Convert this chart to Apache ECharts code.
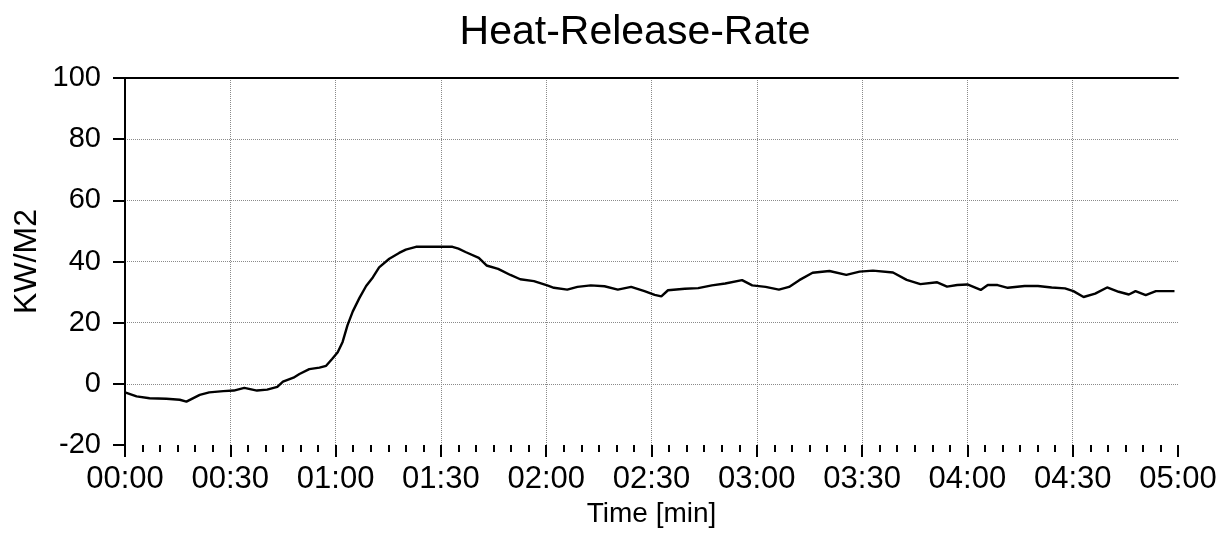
<!DOCTYPE html>
<html lang="en">

<head>
    <meta charset="UTF-8">
    <title>Heat-Release-Rate</title>
    <style>
        html, body {
            margin: 0;
            padding: 0;
            background: #fff;
        }

        #myEcharts {
            width: 1231px;
            height: 534px;
        }
    </style>
    <script src="https://cdn.jsdelivr.net/npm/echarts@6/dist/echarts.min.js"></script>
</head>

<body>
    <div id="myEcharts"></div>

    <script>
        // time in seconds
        const times = [
            0, 3.3, 7, 11.8, 15.6, 17.5, 21.3, 24, 28, 31, 34, 37.6, 40.5, 43.4, 45, 48, 49.7,
            52.5, 55.4, 57.3, 59, 60.6, 62, 63.4, 64.9, 66.8, 68.7, 70.6, 72.4, 75.3, 78.1, 80,
            82.9, 87.6, 90.4, 93.3, 95, 97, 100.8, 103, 106.3, 109.8, 112.6, 116.5, 120.3,
            122.2, 126, 128.9, 132.7, 136.6, 140.4, 144.2, 148, 150.9, 152.8, 154.7, 159.5,
            163.3, 167.2, 171, 175.8, 178.7, 182.5, 186.3, 189.2, 192.1, 195.9, 200.7, 205.5,
            209.3, 213.1, 218.8, 222.7, 226.6, 231.4, 234.2, 237.1, 240, 243.8, 245.8, 248.6,
            251.5, 256.3, 260.1, 264, 267.8, 270.2, 273.1, 276.4, 279.8, 283.1, 286, 287.9,
            290.8, 293.7, 299
        ];
        // heat release rate, KW/M2
        const hrr = [
            -2.8, -4.1, -4.7, -4.9, -5.2, -5.8, -3.6, -2.8, -2.4, -2.2, -1.3, -2.2, -1.9, -1, 0.7,
            2, 3.2, 4.8, 5.3, 5.9, 8.1, 10.3, 13.7, 19.2, 23.7, 28.1, 32, 34.8, 38.1, 40.9, 42.8,
            43.9, 44.8, 44.8, 44.8, 44.8, 44.2, 43.1, 41.2, 38.7, 37.6, 35.6, 34.2, 33.6, 32.2,
            31.4, 30.8, 31.7, 32.2, 31.9, 30.8, 31.7, 30.3, 29.1, 28.6, 30.6, 31.1, 31.3, 32.2,
            32.8, 33.9, 32.2, 31.7, 30.8, 31.7, 33.9, 36.3, 36.9, 35.6, 36.7, 37, 36.4, 34,
            32.6, 33.2, 31.8, 32.3, 32.5, 30.7, 32.3, 32.3, 31.4, 32, 32, 31.5, 31.2, 30.3, 28.4,
            29.5, 31.5, 30.1, 29.2, 30.3, 29, 30.3, 30.3
        ];
        const xTicks = [0, 30, 60, 90, 120, 150, 180, 210, 240, 270, 300];
        const yTicks = [-20, 0, 20, 40, 60, 80, 100];

        const font = 'Liberation Sans, Arial, sans-serif';

        function mmss(sec) {
            var m = Math.floor(sec / 60), s = Math.round(sec % 60);
            return (m < 10 ? '0' : '') + m + ':' + (s < 10 ? '0' : '') + s;
        }

        var myChart = echarts.init(document.getElementById('myEcharts'));
        var option = {
            backgroundColor: '#fff',
            animation: false,
            title: {
                text: 'Heat-Release-Rate',
                left: 630,
                textAlign: 'center',
                top: 7,
                textStyle: { fontFamily: font, fontSize: 41, fontWeight: 'normal', color: '#000' }
            },
            grid: { left: 125, right: 53, top: 78, bottom: 89, containLabel: false, outerBoundsMode: 'none' },
            xAxis: [{
                type: 'value',
                position: 'bottom',
                min: xTicks[0],
                max: xTicks[xTicks.length - 1],
                interval: 30,
                name: 'Time [min]',
                nameLocation: 'middle',
                nameGap: 55,
                nameMoveOverlap: false,
                nameTextStyle: { fontFamily: font, fontSize: 28, color: '#000' },
                axisLine: { show: false, onZero: false },
                axisTick: { show: true, length: 12, lineStyle: { color: '#000', width: 2 } },
                minorTick: { show: true, splitNumber: 6, length: 7, lineStyle: { color: '#000', width: 2 } },
                axisLabel: {
                    fontFamily: font, fontSize: 31, color: '#000', margin: 19,
                    formatter: mmss
                },
                splitLine: {
                    show: true, showMaxLine: false,
                    lineStyle: { color: '#8a8a8a', type: 'dotted', width: 1 }
                }
            }, {
                type: 'value',
                position: 'top',
                min: xTicks[0],
                max: xTicks[xTicks.length - 1],
                axisLine: { show: true, onZero: false, lineStyle: { color: '#000', width: 2 } },
                axisTick: { show: false },
                axisLabel: { show: false },
                splitLine: { show: false }
            }],
            yAxis: {
                type: 'value',
                min: yTicks[0],
                max: yTicks[yTicks.length - 1],
                interval: 20,
                name: 'KW/M2',
                nameLocation: 'middle',
                nameGap: 82,
                nameMoveOverlap: false,
                nameTextStyle: { fontFamily: font, fontSize: 32, color: '#000' },
                axisLine: { show: true, onZero: false, lineStyle: { color: '#000', width: 2 } },
                axisTick: { show: true, length: 12, lineStyle: { color: '#000', width: 2 } },
                axisLabel: { fontFamily: font, fontSize: 29, color: '#000', margin: 24 },
                splitLine: {
                    show: true, showMinLine: false,
                    lineStyle: { color: '#8a8a8a', type: 'dotted', width: 1 }
                }
            },
            series: [{
                name: 'HRR',
                type: 'line',
                xAxisIndex: 0,
                showSymbol: false,
                symbol: 'none',
                lineStyle: { color: '#000', width: 2.4 },
                data: times.map(function (t, i) { return [t, hrr[i]]; })
            }]
        };

        myChart.setOption(option);
    </script>
</body>

</html>
